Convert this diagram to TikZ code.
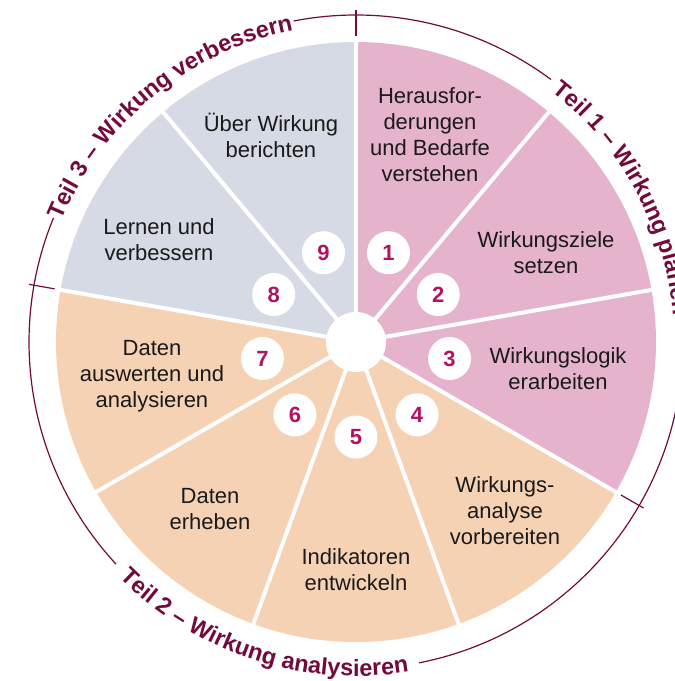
\documentclass[tikz,border=0pt]{standalone}
\usepackage{fontspec}
\setmainfont{Liberation Sans}
\usetikzlibrary{decorations.text}
\definecolor{pinkseg}{HTML}{E6B3CC}
\definecolor{greyseg}{HTML}{D6DAE5}
\definecolor{peachseg}{HTML}{F6D2B4}
\definecolor{burg}{HTML}{730A3C}
\definecolor{numcol}{HTML}{B21262}
\definecolor{txt}{HTML}{1A1A1A}
\newcommand{\arcfont}{\fontsize{23.5}{26}\selectfont\bfseries\color{burg}}
\begin{document}
\begin{tikzpicture}[x=1pt,y=1pt,
  segtext/.style={anchor=base, align=center, font=\fontsize{22}{26}\selectfont, text=txt, inner sep=0pt},
  numc/.style={circle, fill=white, minimum size=43pt, inner sep=0pt, font=\fontsize{22}{22}\selectfont\bfseries, text=numcol},
  divider/.style={white, line width=4pt},
  partline/.style={burg, line width=1.2pt},
]
\useasboundingbox (-356,-339) rectangle (319,342);
\clip (-356,-339) rectangle (319,342);
\coordinate (c) at (0,0);
% wedges
\fill[pinkseg] (c) -- (90:300pt) arc[start angle=90,end angle=-30,radius=300pt] -- cycle;
\fill[peachseg] (c) -- (-30:300pt) arc[start angle=-30,end angle=-190,radius=300pt] -- cycle;
\fill[greyseg] (c) -- (170:300pt) arc[start angle=170,end angle=90,radius=300pt] -- cycle;
\foreach \a in {90,50,...,-230} \draw[divider] (c) -- (\a:302pt);
\fill[white] (c) circle[radius=30pt];
% numbers
\foreach \n/\a in {1/70,2/30,3/-10,4/-50,5/-90,6/-130,7/-170,8/150,9/110}
  \node[numc] (n\n) at (\a:95pt) {\n};
% labels (anchor = baseline of last line)
\node[segtext] (l1) at (74,161) {Herausfor-\\derungen\\und Bedarfe\\verstehen};
\node[segtext] (l2) at (190,69) {Wirkungsziele\\setzen};
\node[segtext] (l3) at (202,-47) {Wirkungslogik\\erarbeiten};
\node[segtext] (l4) at (149,-202) {Wirkungs-\\analyse\\vorbereiten};
\node[segtext] (l5) at (0,-248) {Indikatoren\\entwickeln};
\node[segtext] (l6) at (-146,-187) {Daten\\erheben};
\node[segtext] (l7) at (-204,-65) {Daten\\auswerten und\\analysieren};
\node[segtext] (l8) at (-197,82) {Lernen und\\verbessern};
\node[segtext] (l9) at (-85,185) {Über Wirkung\\berichten};
% outer part arcs
\draw[partline] (90:327pt) arc[start angle=90,end angle=53.4,radius=327pt];
\draw[partline] (3:327pt) arc[start angle=3,end angle=-78.9,radius=327pt];
\draw[partline] (-137.2:327pt) arc[start angle=-137.2,end angle=-202.3,radius=327pt];
\draw[partline] (101:327pt) arc[start angle=101,end angle=90,radius=327pt];
\foreach \a in {90,170,-30} \draw[partline] (\a:306pt) -- (\a:332pt);
% part titles
\path[decorate, decoration={text along path, text align=left,
  text={|\arcfont|Teil 1 – Wirkung planen}}]
  (52:318pt) arc[start angle=52,end angle=-40,radius=318pt];
\path[decorate, decoration={text along path, text align=center,
  text={|\arcfont|Teil 2 – Wirkung analysieren}}]
  (-145:334pt) arc[start angle=-145,end angle=-71,radius=334pt];
\path[decorate, decoration={text along path, text align=center,
  text={|\arcfont|Teil 3 – Wirkung verbessern}}]
  (165:318pt) arc[start angle=165,end angle=94,radius=318pt];
\end{tikzpicture}
\end{document}
